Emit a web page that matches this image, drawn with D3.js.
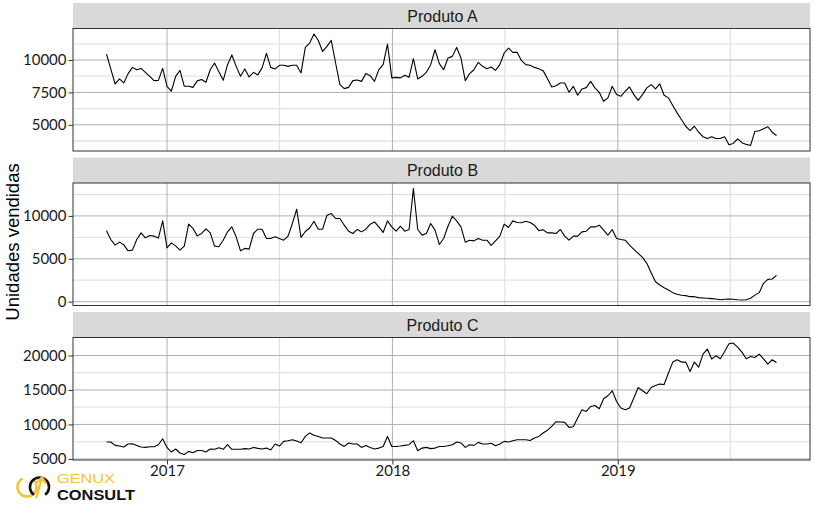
<!DOCTYPE html>
<html><head><meta charset="utf-8">
<script src="https://cdn.jsdelivr.net/npm/d3@7"></script>
<style>body{margin:0;background:#fff;} svg{display:block;}</style>
</head><body><svg id="chart" width="814" height="513"></svg>
<script>
// ---------- DATA ----------
const startDate = "2016-09-25"; // first weekly observation
const products = ["Produto A", "Produto B", "Produto C"];
const valuesA = [10450,9300,8150,8540,8230,8950,9430,9250,9350,9050,8740,8410,8430,9350,7970,7590,8740,9200,7970,7970,
7890,8390,8490,8280,9250,9770,9100,8430,9640,10390,9510,8740,9310,8690,9050,8850,9390,10510,9430,9310,
9590,9600,9510,9590,9600,9000,10970,11310,12000,11500,10660,11050,11510,9770,8100,7790,7890,8410,8460,8350,
8950,8790,8350,9250,9640,11230,8620,8660,8620,8820,8660,10100,8540,8740,9050,9640,10790,9720,9250,10150,
10280,10970,10150,8410,8950,9250,9820,9510,9330,9460,9200,9640,10540,10920,10590,10590,9950,9640,9590,9430,
9330,9180,8570,7920,8020,8230,8230,7510,7970,7280,7770,7870,8350,7850,7510,6820,7080,7970,7330,7200,
7590,7920,7330,6890,7330,7850,8100,7770,8150,7280,7080,6490,5920,5410,4890,4560,4890,4430,4080,3950,
4080,3950,3950,4080,3460,3560,3920,3620,3490,3410,4490,4540,4690,4850,4430,4180];
const valuesB = [8260,7250,6590,6940,6630,5930,6010,7250,8020,7440,7720,7640,7410,9420,6280,6860,6510,6010,6480,9040,
8540,7670,7950,8490,8020,6480,6400,7170,8140,8720,7560,5930,6210,6130,7950,8450,8450,7370,7370,7560,
7370,7170,7640,9120,10780,7490,8180,8590,9370,8450,8450,10080,10280,9700,9700,8920,8220,7950,8420,8140,
8450,9040,9300,8720,8070,9420,8720,8220,8800,8220,8420,13190,8420,7760,7950,9120,8340,6670,7370,8800,
9970,9420,8720,6940,7170,7090,7370,7170,7170,6560,7090,7640,9040,8650,9420,9230,9200,9380,9230,8920,
8280,8380,8020,8020,7950,8420,7640,7170,7640,7640,8140,8220,8720,8720,8920,8340,7760,8420,7370,7250,
7170,6590,6090,5630,5160,4470,3370,2320,1940,1630,1360,1050,860,740,700,580,580,470,430,400,
350,310,230,280,310,280,230,200,230,400,760,1050,2140,2600,2640,3070];
const valuesC = [7450,7450,6960,6870,6730,7160,7200,6960,6730,6670,6770,6770,7060,7930,6670,6000,6440,5860,5650,6090,
5900,6230,6230,6000,6440,6400,6620,6400,7060,6400,6400,6400,6490,6440,6670,6530,6440,6570,6290,7160,
6870,7540,7630,7780,7600,7350,8260,8770,8430,8260,8030,8030,8030,7680,7160,6810,7310,7160,7160,6670,
6960,6670,6440,6570,6810,8260,6810,6810,6870,6960,7060,7640,6190,6570,6670,6490,6570,6810,6810,6900,
7060,7450,7310,6670,7060,6960,7400,7160,7160,7260,6900,7160,7540,7450,7630,7780,7780,7780,7680,8030,
8260,8750,9150,9710,10400,10350,10300,9570,9660,10930,12130,11880,12610,12750,12280,13720,14160,14880,13330,12380,
12130,12380,13830,15360,14880,14450,15360,15650,15850,15800,17450,19040,19380,19040,19040,17680,19040,18320,20200,20930,
19480,19960,19520,20580,21700,21800,21220,20490,19520,19860,19710,20200,19520,18750,19380,18990];
const yTicksA = [5000, 7500, 10000];
const yTicksB = [0, 5000, 10000];
const yTicksC = [5000, 10000, 15000, 20000];
const yMinorA = [3750, 6250, 8750, 11250];
const yMinorB = [2500, 7500, 12500];
const yMinorC = [7500, 12500, 17500];
const xTickLabels = ["2017", "2018", "2019"];
const xMinorDates = ["2017-07-02", "2018-07-02", "2019-07-02"];
const yTitle = "Unidades vendidas";
const logoLines = ["GENUX", "CONSULT"];

// ---------- BUILD ----------
const parse = d3.timeParse("%Y-%m-%d");
const t0 = parse(startDate);
const series = [
  {name: products[0], values: valuesA, ticks: yTicksA, minor: yMinorA},
  {name: products[1], values: valuesB, ticks: yTicksB, minor: yMinorB},
  {name: products[2], values: valuesC, ticks: yTicksC, minor: yMinorC}
].map(s => ({...s, data: s.values.map((v, i) => ({date: d3.timeWeek.offset(t0, i), value: v}))}));

const svg = d3.select("#chart");
const FONT = "Lato, 'Liberation Sans', sans-serif";
const SANS = "'Liberation Sans', Arial, sans-serif";
const left = 73, right = 810;
const stripH = 25.5, panelH = 122.5, step = 154.5, top0 = 3;

const allDates = series[0].data.map(d => d.date);
const [dmin, dmax] = d3.extent(allDates);
const dspan = dmax - dmin;
const x = d3.scaleTime()
  .domain([new Date(+dmin - 0.05 * dspan), new Date(+dmax + 0.05 * dspan)])
  .range([left, right]);
const xMajor = xTickLabels.map(y => new Date(+y, 0, 1));
const xMinor = xMinorDates.map(parse);

series.forEach((s, p) => {
  const stripTop = top0 + p * step;
  const pTop = stripTop + stripH;
  const pBot = pTop + panelH;
  const [vmin, vmax] = d3.extent(s.values);
  const pad = 0.05 * (vmax - vmin);
  const y = d3.scaleLinear().domain([vmin - pad, vmax + pad]).range([pBot, pTop]);
  const g = svg.append("g");

  // strip
  g.append("rect").attr("x", left).attr("y", stripTop).attr("width", right - left).attr("height", stripH)
    .attr("fill", "#d9d9d9");
  g.append("text").attr("x", (left + right) / 2 + 1).attr("y", stripTop + stripH / 2 + 6)
    .attr("text-anchor", "middle").attr("font-family", SANS).attr("font-size", 16)
    .attr("fill", "#1a1a1a").text(s.name);

  // gridlines
  const dom = y.domain();
  const minorY = s.minor.filter(v => v > dom[0] && v < dom[1]);
  g.selectAll(".hmin").data(minorY).join("line")
    .attr("x1", left).attr("x2", right).attr("y1", d => y(d)).attr("y2", d => y(d))
    .attr("stroke", "#e3e3e3").attr("stroke-width", 1.3);
  g.selectAll(".vmin").data(xMinor).join("line")
    .attr("x1", d => x(d)).attr("x2", d => x(d)).attr("y1", pTop).attr("y2", pBot)
    .attr("stroke", "#e3e3e3").attr("stroke-width", 1.3);
  g.selectAll(".hmaj").data(s.ticks).join("line")
    .attr("x1", left).attr("x2", right).attr("y1", d => y(d)).attr("y2", d => y(d))
    .attr("stroke", "#b0b0b0").attr("stroke-width", 1);
  g.selectAll(".vmaj").data(xMajor).join("line")
    .attr("x1", d => x(d)).attr("x2", d => x(d)).attr("y1", pTop).attr("y2", pBot)
    .attr("stroke", "#b0b0b0").attr("stroke-width", 1);

  // line
  const line = d3.line().x(d => x(d.date)).y(d => y(d.value));
  g.append("path").datum(s.data).attr("d", line).attr("fill", "none")
    .attr("stroke", "#000").attr("stroke-width", 1.1).attr("stroke-linejoin", "round");

  // border
  g.append("rect").attr("x", left).attr("y", pTop).attr("width", right - left).attr("height", panelH)
    .attr("fill", "none").attr("stroke", "#333").attr("stroke-width", 1);

  // y axis
  const ya = g.append("g").attr("transform", `translate(${left},0)`)
    .call(d3.axisLeft(y).tickValues(s.ticks).tickSize(4.5).tickPadding(2).tickFormat(d3.format("d")));
  ya.select(".domain").remove();
  ya.selectAll(".tick line").attr("stroke", "#333");
  ya.selectAll(".tick text").attr("font-family", FONT).attr("font-size", 15).attr("fill", "#1a1a1a");

  if (p === series.length - 1) {
    const xa = g.append("g").attr("transform", `translate(0,${pBot})`)
      .call(d3.axisBottom(x).tickValues(xMajor).tickSize(4.5).tickPadding(1).tickFormat(d3.timeFormat("%Y")));
    xa.select(".domain").remove();
    xa.selectAll(".tick line").attr("stroke", "#333");
    xa.selectAll(".tick text").attr("font-family", FONT).attr("font-size", 15).attr("fill", "#1a1a1a");
  }
});

// y title
svg.append("text").attr("transform", "translate(19,242) rotate(-90)")
  .attr("text-anchor", "middle").attr("font-family", SANS).attr("font-size", 18.5)
  .attr("fill", "#000").text(yTitle);

// logo
const logo = svg.append("g");
const yellow = "#f4c430";
const arc = d3.arc();
logo.append("path").attr("transform", "translate(27,487)")
  .attr("d", arc({innerRadius: 8.3, outerRadius: 10.8, startAngle: Math.PI * 0.2, endAngle: Math.PI * 1.85}))
  .attr("fill", yellow);
logo.append("path").attr("transform", "translate(39.5,487)")
  .attr("d", arc({innerRadius: 8.3, outerRadius: 10.8, startAngle: Math.PI * 1.2, endAngle: Math.PI * 2.8}))
  .attr("fill", "#111");
logo.append("path").attr("d", "M36.5,497 L41.5,479 M37,482.5 L42,477.5 L45.5,483")
  .attr("fill", "none").attr("stroke", yellow).attr("stroke-width", 2.4).attr("stroke-linecap", "round");
logo.append("text").attr("x", 57).attr("y", 483).attr("font-family", SANS)
  .attr("font-size", 13).attr("fill", yellow)
  .attr("textLength", 58).attr("lengthAdjust", "spacingAndGlyphs").text(logoLines[0]);
logo.append("text").attr("x", 57).attr("y", 500).attr("font-family", SANS)
  .attr("font-size", 14.5).attr("font-weight", 700).attr("fill", "#111")
  .attr("textLength", 78).attr("lengthAdjust", "spacingAndGlyphs").text(logoLines[1]);
</script></body></html>
